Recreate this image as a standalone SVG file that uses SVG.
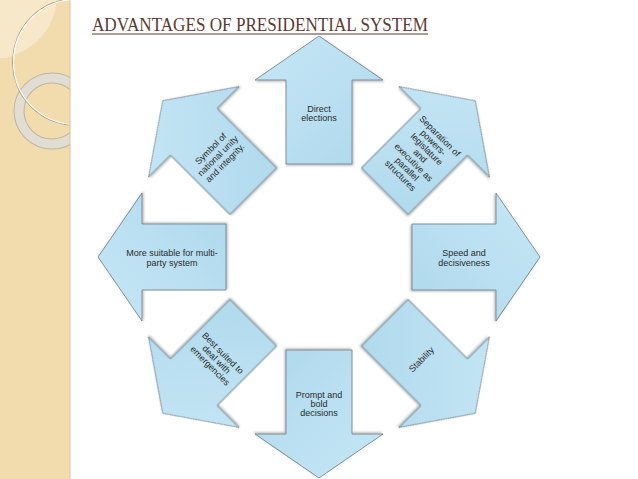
<svg xmlns="http://www.w3.org/2000/svg" width="638" height="479" viewBox="0 0 638 479">
<style>
.arrow{fill:url(#blue);stroke:#6c7a82;stroke-width:0.8;filter:url(#sh)}
.lbl{font-family:"Liberation Sans",Arial,sans-serif;font-size:9px;fill:#2b2b2b;text-anchor:middle}
.title{font-family:"Liberation Serif","Times New Roman",serif;font-size:19px;fill:#5b3a32}
</style>
<defs>
<linearGradient id="blue" x1="0" y1="0" x2="1" y2="1">
<stop offset="0" stop-color="#c6e7f6"/>
<stop offset="1" stop-color="#aed8ec"/>
</linearGradient>
<filter id="sh" x="-20%" y="-20%" width="140%" height="140%">
<feDropShadow dx="1" dy="1.2" stdDeviation="0.9" flood-color="#000" flood-opacity="0.3"/>
</filter>
<path id="arr" d="M286,164 L286,80 L255,80 L319,36 L383,80 L352,80 L352,164 Z"/>
<clipPath id="panelclip"><rect x="0" y="0" width="70" height="479"/></clipPath>
</defs>
<rect width="638" height="479" fill="#ffffff"/>
<g id="panel">
<rect x="0" y="0" width="70" height="479" fill="#f2dcae"/>
<path d="M0,0 L57,0 Q52,44 6,58 L0,58 Z" fill="#f7e8c9"/>
<g clip-path="url(#panelclip)" fill="none">
<circle cx="52" cy="111" r="33" stroke="#bdb6a6" stroke-width="11"/>
<circle cx="52" cy="111" r="33" stroke="#e2ddd2" stroke-width="9"/>
<circle cx="76" cy="62" r="63.5" stroke="#a8977a" stroke-width="1"/>
<circle cx="76" cy="62" r="62.5" stroke="#ffffff" stroke-width="1.2"/>
</g>
<line x1="70" y1="0" x2="70" y2="479" stroke="#d8c39a" stroke-width="1"/>
</g>
<g id="title">
<text class="title" x="92" y="31" textLength="336" lengthAdjust="spacingAndGlyphs">ADVANTAGES OF PRESIDENTIAL SYSTEM</text>
<line x1="92" y1="34" x2="428" y2="34" stroke="#5b3a32" stroke-width="1"/>
</g>
<g id="connectors"/>
<g id="n-direct">
<use href="#arr" class="arrow"/>
<text class="lbl" x="319" y="111.5">Direct</text>
<text class="lbl" x="319" y="121">elections</text>
</g>
<g id="n-separation">
<use href="#arr" class="arrow" transform="rotate(45 319 257)"/>
<g transform="rotate(45 319 257)">
<text class="lbl" x="319" y="89.1">Separation of</text>
<text class="lbl" x="319" y="98.4">powers-</text>
<text class="lbl" x="319" y="107.7">legislature</text>
<text class="lbl" x="319" y="117">and</text>
<text class="lbl" x="319" y="126.3">executive as</text>
<text class="lbl" x="319" y="135.6">parallel</text>
<text class="lbl" x="319" y="144.9">structures</text>
</g>
</g>
<g id="n-speed">
<use href="#arr" class="arrow" transform="rotate(90 319 257)"/>
<text class="lbl" x="464" y="256">Speed and</text>
<text class="lbl" x="464" y="265.5">decisiveness</text>
</g>
<g id="n-stability">
<use href="#arr" class="arrow" transform="rotate(135 319 257)"/>
<text class="lbl" x="319" y="405" transform="rotate(-45 319 257)">Stability</text>
</g>
<g id="n-prompt">
<use href="#arr" class="arrow" transform="rotate(180 319 257)"/>
<text class="lbl" x="319" y="398">Prompt and</text>
<text class="lbl" x="319" y="407">bold</text>
<text class="lbl" x="319" y="416">decisions</text>
</g>
<g id="n-emergencies">
<use href="#arr" class="arrow" transform="rotate(225 319 257)"/>
<g transform="rotate(45 319 257)">
<text class="lbl" x="319" y="396">Best suited to</text>
<text class="lbl" x="319" y="405">deal with</text>
<text class="lbl" x="319" y="414">emergencies</text>
</g>
</g>
<g id="n-multiparty">
<use href="#arr" class="arrow" transform="rotate(270 319 257)"/>
<text class="lbl" x="172" y="256">More suitable for multi-</text>
<text class="lbl" x="172" y="265.5">party system</text>
</g>
<g id="n-symbol">
<use href="#arr" class="arrow" transform="rotate(315 319 257)"/>
<g transform="rotate(-45 319 257)">
<text class="lbl" x="319" y="107">Symbol of</text>
<text class="lbl" x="319" y="117">national unity</text>
<text class="lbl" x="319" y="127">and integrity.</text>
</g>
</g>
</svg>
